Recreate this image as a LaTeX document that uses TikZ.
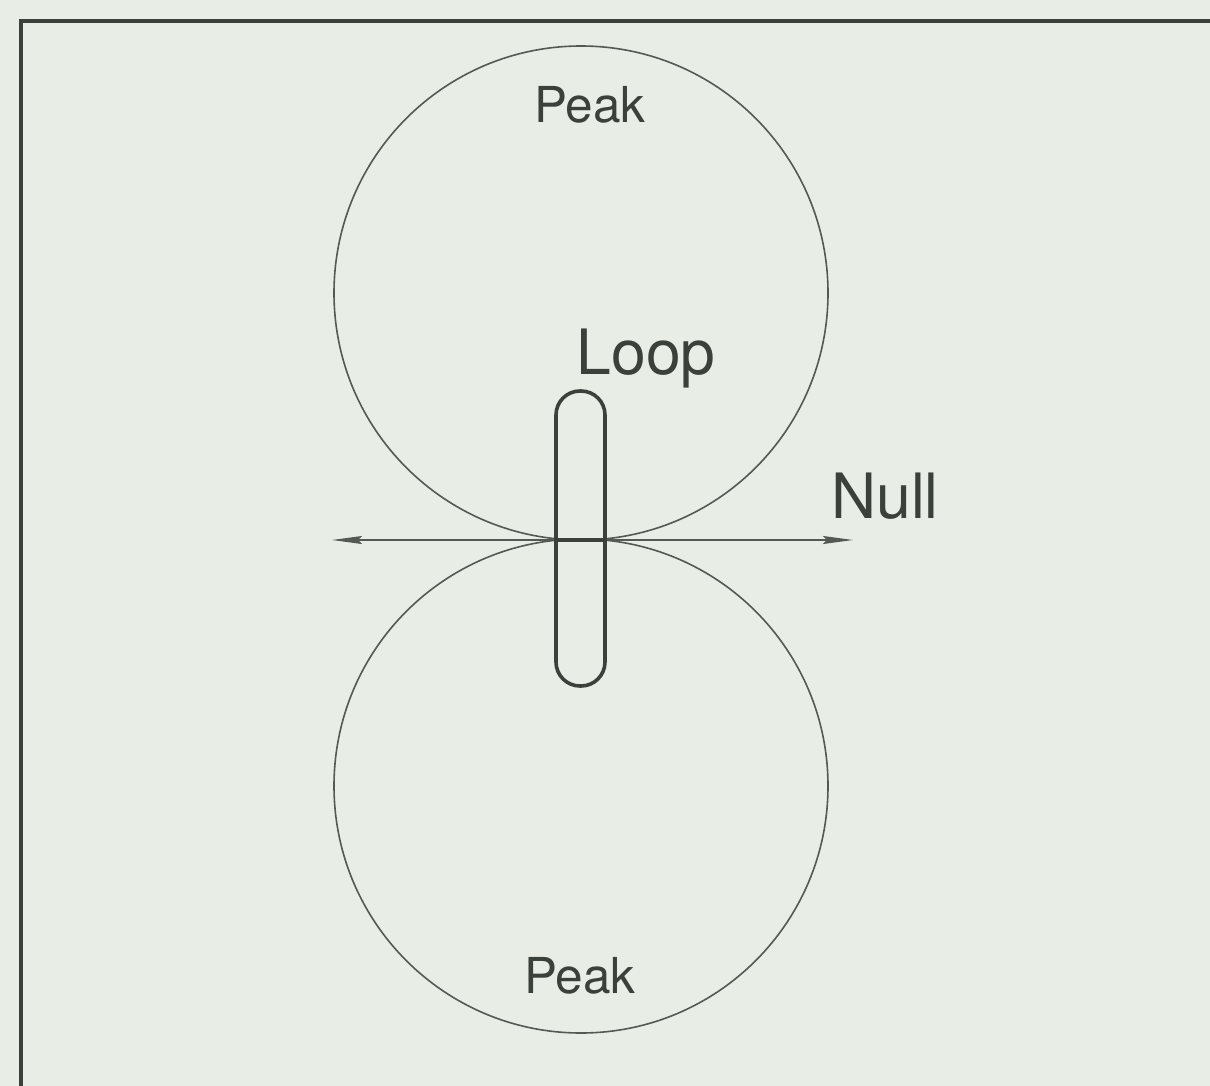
\documentclass[tikz,border=0pt]{standalone}
\usepackage{fontspec}
\setmainfont{TeX Gyre Heros}
\usetikzlibrary{arrows.meta}
\definecolor{bg}{HTML}{E8EDE6}
\definecolor{ink}{HTML}{3A403A}
\definecolor{thin}{HTML}{535A53}
\begin{document}
\begin{tikzpicture}[x=1pt,y=-1pt,
  lobe/.style={draw=thin,line width=1.6pt,circle,minimum size=494pt,inner sep=0pt},
  loopbox/.style={draw=ink,line width=3.6pt,rounded corners=24pt,minimum width=49pt,minimum height=295pt,inner sep=0pt},
  lab/.style={text=ink,inner sep=0pt,anchor=base},
  axis/.style={draw=thin,line width=1.8pt}]
\fill[bg] (0,0) rectangle (1210,1086);
\useasboundingbox (0,0) rectangle (1210,1086);
\begin{scope}
\clip (0,0) rectangle (1210,1086);
\draw[ink,line width=3.5pt] (1260,21) -- (21,21) -- (21,1120);
\end{scope}
\node[lobe] (top) at (581,293) {};
\node[lobe] (bot) at (581,786) {};
\node[loopbox] (loop) at (580.5,538.5) {};
\coordinate (L) at (332,540);
\coordinate (R) at (853,540);
\draw[axis,{Stealth[length=30pt,width=8pt,inset=4pt]}-{Stealth[length=30pt,width=8pt,inset=4pt]}] (L) -- (R);
\draw[ink,line width=3.6pt] (loop.west |- L) -- (loop.east |- L);
\node[lab,font=\fontsize{49.5}{49.5}\selectfont] (p1) at (590,123) {Peak};
\node[lab,font=\fontsize{49.5}{49.5}\selectfont] (p2) at (580,993) {Peak};
\node[lab,font=\fontsize{62.5}{62.5}\selectfont] (lp) at (646,374) {Loop};
\node[lab,font=\fontsize{62.5}{62.5}\selectfont] (nl) at (885,518) {Null};
\end{tikzpicture}
\end{document}
